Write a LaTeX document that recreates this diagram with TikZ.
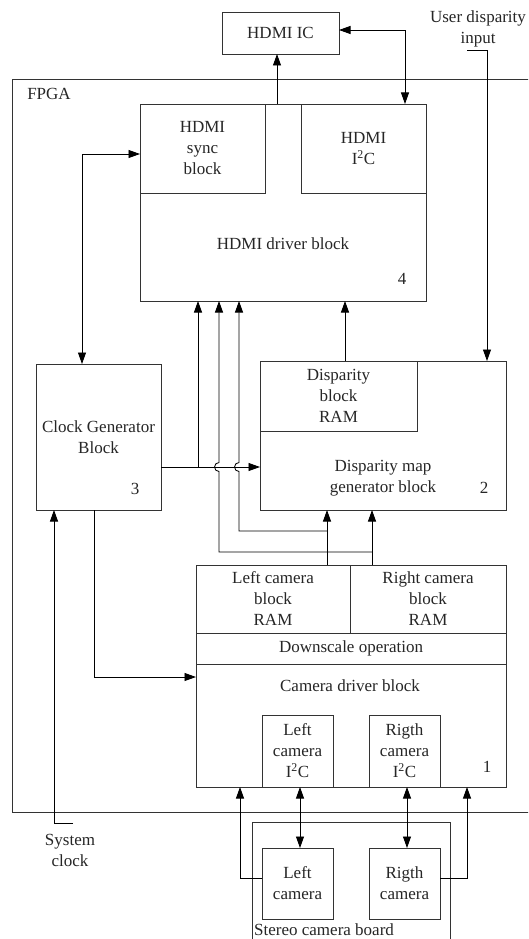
\documentclass[tikz,border=0pt]{standalone}
\usepackage{fontspec}
\setmainfont{Liberation Serif}
\usetikzlibrary{arrows.meta,calc}

\begin{document}
\begin{tikzpicture}[x=1pt,y=-1pt,
  every node/.style={font=\fontsize{17}{21}\selectfont, text=black!85},
  box/.style={draw=black!80, line width=0.85pt, inner sep=0pt, outer sep=0pt,
              align=center, anchor=north west},
  lbl/.style={align=center, inner sep=0pt},
  wire/.style={line width=0.85pt, black},
  tip/.style={},
  arr/.style={wire, -{Triangle[length=11.5pt,width=8pt]}},
  dbl/.style={wire, {Triangle[length=11.5pt,width=8pt]}-{Triangle[length=11.5pt,width=8pt]}},
]
\clip (0,0) rectangle (528,939);
\fill[white] (0,0) rectangle (528,939);

% ---- blocks ----
\node[box, minimum width=117pt, minimum height=42pt] (hdmiic) at (222,12) {HDMI IC};
\node[box, minimum width=540pt, minimum height=733pt] (fpga) at (12,79) {};
\node[lbl] (fpgalbl) at (49,94) {FPGA};

\node[box, minimum width=286pt, minimum height=197pt] (driver) at (140,104) {};
\node[box, minimum width=125pt, minimum height=89pt] (sync) at (140,104) {HDMI\\sync\\block};
\node[box, minimum width=125pt, minimum height=89pt] (hi2c) at (301,104) {HDMI\\I\textsuperscript{2}C};
\node[lbl] (drvlbl) at (283,244) {HDMI driver block};
\node[lbl] (n4) at (402,279) {4};

\node[box, minimum width=125pt, minimum height=146pt] (clockgen) at (36,364) {Clock Generator\\Block};
\node[lbl] (n3) at (135,489) {3};

\node[box, minimum width=246pt, minimum height=149pt] (dispmap) at (260,361) {};
\node[box, minimum width=157pt, minimum height=70pt] (dispram) at (260,361) {Disparity\\block\\RAM};
\node[lbl] (dmlbl) at (383,478) {Disparity map\\generator block};
\node[lbl] (n2) at (484,488) {2};

\node[box, minimum width=310pt, minimum height=222pt] (camblock) at (196,565) {};
\node[box, minimum width=154pt, minimum height=68pt] (leftram) at (196,565) {Left camera\\block\\RAM};
\node[box, minimum width=156pt, minimum height=68pt] (rightram) at (350,565) {Right camera\\block\\RAM};
\node[box, minimum width=310pt, minimum height=31pt] (downscale) at (196,633) {Downscale operation};
\node[lbl] (camlbl) at (350,686) {Camera driver block};
\node[box, minimum width=71pt, minimum height=72pt] (li2c) at (262,715) {Left\\camera\\I\textsuperscript{2}C};
\node[box, minimum width=71pt, minimum height=72pt] (ri2c) at (369,715) {Rigth\\camera\\I\textsuperscript{2}C};
\node[lbl] (n1) at (487,767) {1};

\node[box, minimum width=198pt, minimum height=140pt] (board) at (252,822) {};
\node[box, minimum width=71pt, minimum height=71pt] (lcam) at (262,848) {Left\\camera};
\node[box, minimum width=71pt, minimum height=71pt] (rcam) at (369,848) {Rigth\\camera};
\node[lbl, anchor=base west] (boardlbl) at (254,935) {Stereo camera board};

\node[lbl] (syslbl) at (70,850) {System\\clock};
\node[lbl] (userlbl) at (478,29) {User disparity\\input};

% ---- connection points ----
\coordinate (icin) at ([xshift=-3.5pt]hdmiic.south);
\coordinate (icout) at ([yshift=3pt]hdmiic.east);
\coordinate (i2cin) at ([xshift=41.5pt]hi2c.north);
\coordinate (syncin) at ([yshift=-5.5pt]sync.west);
\coordinate (ckin) at ([xshift=-16.5pt]clockgen.north);
\coordinate (clk) at ([yshift=-30pt]clockgen.east);
\coordinate (dmin) at (dispmap.west |- clk);
\coordinate (busA) at ([xshift=-85pt]driver.south);
\coordinate (busB) at ([xshift=-64pt]driver.south);
\coordinate (busC) at ([xshift=-44pt]driver.south);
\coordinate (lo) at ([xshift=54pt]leftram.north);
\coordinate (ro) at ([xshift=-56pt]rightram.north);
\coordinate (tapL) at ([yshift=34pt]lo);
\coordinate (tapR) at ([yshift=13pt]ro);
\coordinate (dmout) at ([xshift=-38pt]dispmap.north);
\coordinate (uin) at (467,50);
\coordinate (usr) at ([xshift=104pt]dispmap.north);
\coordinate (ckout) at ([xshift=-4.5pt]clockgen.south);
\coordinate (camin) at ([yshift=-1pt]camblock.west);
\coordinate (sysc) at (73,823);
\coordinate (ckin2) at ([xshift=-44.5pt]clockgen.south);
\coordinate (lcout) at ([yshift=5.5pt]lcam.west);
\coordinate (lcin) at ([xshift=-111pt]camblock.south);
\coordinate (rcout) at ([yshift=5.5pt]rcam.east);
\coordinate (rcin) at ([xshift=116pt]camblock.south);

% ---- connectors ----
\draw[arr] (icin |- driver.north) -- (icin);
\draw[dbl] (icout) -| (i2cin);
\draw[dbl] (syncin) -| (ckin);

% clock to disparity map generator and HDMI driver
\draw[arr] (clk) -- (dmin);
\draw[arr] (busA |- clk) -- (busA);

% camera RAM outputs
\draw[arr] (lo) -- (lo |- dispmap.south);
\draw[arr] (ro) -- (ro |- dispmap.south);
\draw[arr] (tapL) -- (busC |- tapL) -- ($(busC |- clk)+(0,4.5)$)
  arc[start angle=90, end angle=270, radius=4.5] -- (busC);
\draw[arr] (tapR) -- (busB |- tapR) -- ($(busB |- clk)+(0,4.5)$)
  arc[start angle=90, end angle=270, radius=4.5] -- (busB);

\draw[arr] (dmout) -- (dmout |- driver.south);
\draw[arr] (uin) -| (usr);
\draw[arr] (ckout) |- (camin);
\draw[arr] (sysc) -| (ckin2);

% stereo camera board
\draw[arr] (lcout) -| (lcin);
\draw[arr] (rcout) -| (rcin);
\draw[dbl] ([xshift=2.5pt]li2c.south) -- ([xshift=2.5pt]lcam.north);
\draw[dbl] ([xshift=2.5pt]ri2c.south) -- ([xshift=2.5pt]rcam.north);
\end{tikzpicture}
\end{document}
